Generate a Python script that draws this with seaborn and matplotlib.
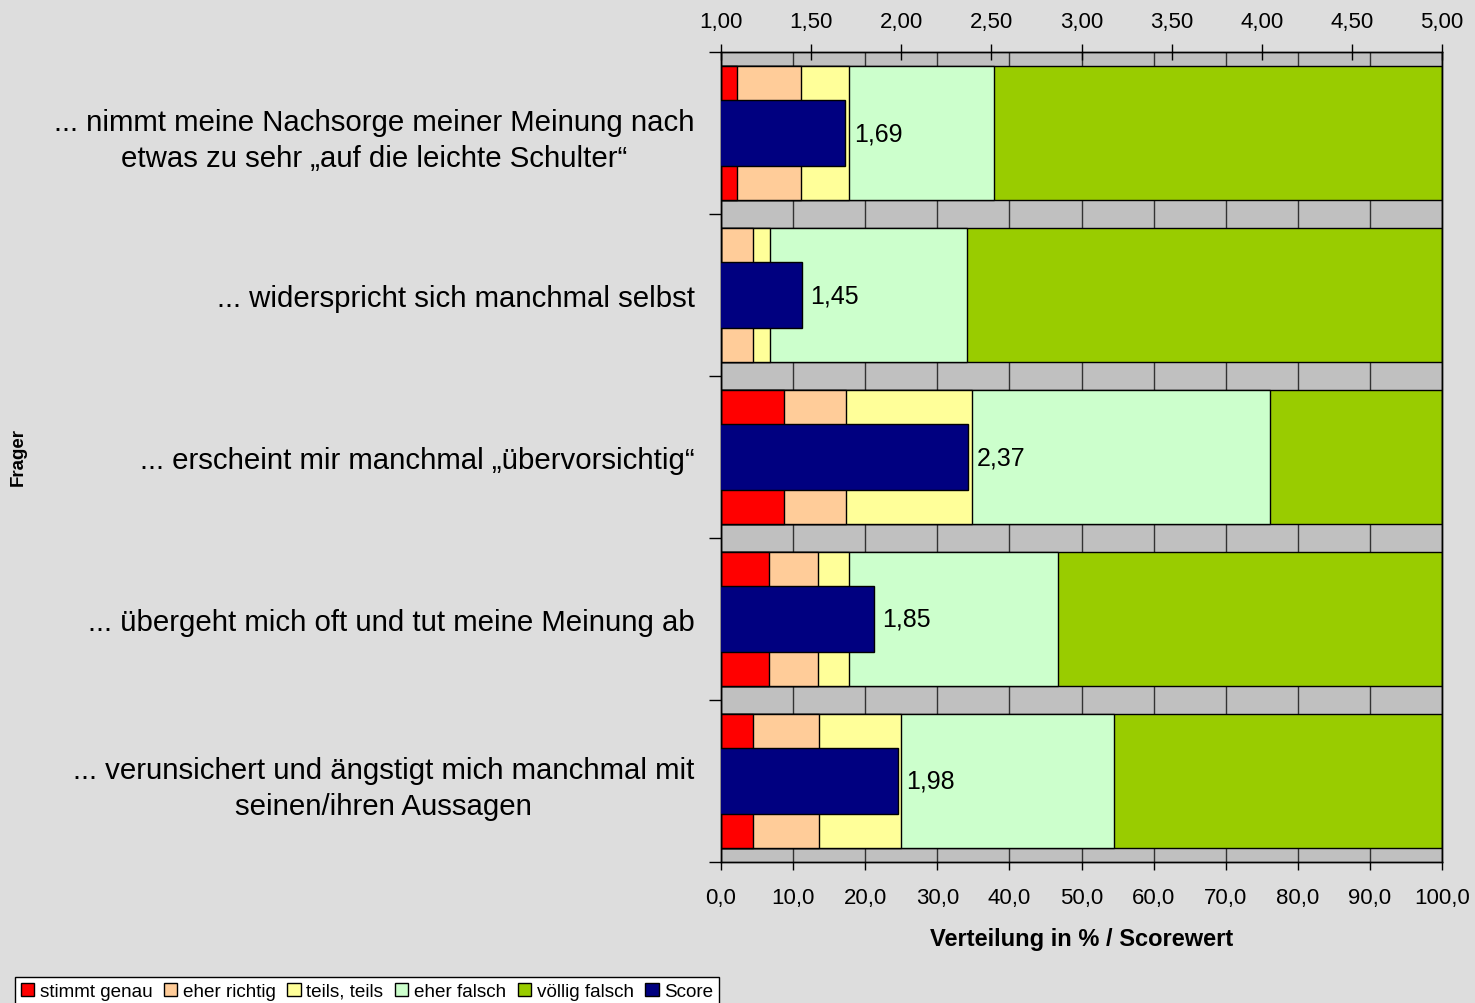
import numpy as np
import pandas as pd
import seaborn as sns
import matplotlib
matplotlib.use("Agg")
import matplotlib.pyplot as plt
from matplotlib.patches import Patch

# ---------------- data ----------------
categories = [
    "... nimmt meine Nachsorge meiner Meinung nach\netwas zu sehr \u201eauf die leichte Schulter\u201c",
    "... widerspricht sich manchmal selbst",
    "... erscheint mir manchmal \u201eübervorsichtig\u201c",
    "... übergeht mich oft und tut meine Meinung ab",
    "... verunsichert und ängstigt mich manchmal mit\nseinen/ihren Aussagen",
]
stimmt_genau = [2.2, 0.0, 8.7, 6.7, 4.5]
eher_richtig = [8.9, 4.5, 8.7, 6.7, 9.1]
teils_teils = [6.7, 2.3, 17.4, 4.4, 11.4]
eher_falsch = [20.0, 27.3, 41.3, 28.9, 29.5]
voellig_falsch = [62.2, 65.9, 23.9, 53.3, 45.5]
scores = [1.69, 1.45, 2.37, 1.85, 1.98]

series_names = ["stimmt genau", "eher richtig", "teils, teils", "eher falsch", "völlig falsch"]
score_name = "Score"
pct_ticks = [0, 10, 20, 30, 40, 50, 60, 70, 80, 90, 100]
score_ticks = [1.0, 1.5, 2.0, 2.5, 3.0, 3.5, 4.0, 4.5, 5.0]

# ---------------- style ----------------
colors = ["#FF0000", "#FFCC99", "#FFFF99", "#CCFFCC", "#99CC00"]
score_color = "#000080"
fig_bg = "#DDDDDD"
plot_bg = "#C0C0C0"

sns.set_style("white")
plt.rcParams["font.family"] = ["Liberation Sans", "DejaVu Sans"]
plt.rcParams["text.color"] = "black"
plt.rcParams["axes.labelcolor"] = "black"
plt.rcParams["xtick.color"] = "black"
plt.rcParams["ytick.color"] = "black"
plt.rcParams["xtick.labelcolor"] = "black"
plt.rcParams["ytick.labelcolor"] = "black"

W, H = 1475, 1004
fig = plt.figure(figsize=(W / 100, H / 100), dpi=100, facecolor=fig_bg)
ax = fig.add_axes([721 / W, 1 - 863 / H, (1442 - 721) / W, (863 - 53) / H])
ax.set_facecolor(plot_bg)

series = [stimmt_genau, eher_richtig, teils_teils, eher_falsch, voellig_falsch]
cum = np.cumsum(np.array(series), axis=0)
df = pd.DataFrame({"cat": categories})
for k in range(len(series) - 1, -1, -1):
    df["v"] = cum[k]
    sns.barplot(data=df, x="v", y="cat", orient="h", color=colors[k], saturation=1,
                width=0.833, edgecolor="black", linewidth=1, ax=ax, zorder=2)

ax2 = ax.twiny()
dfs = pd.DataFrame({"cat": categories, "score": scores})
sns.barplot(data=dfs, x="score", y="cat", orient="h", color=score_color, saturation=1,
            width=0.407, edgecolor="black", linewidth=1, ax=ax2, zorder=3)
ax2.set_xlim(1, 5)
ax2.bar_label(ax2.containers[0], labels=[f"{s:.2f}".replace(".", ",") for s in scores],
              padding=6, fontsize=18, color="black")

# axes config
ax.set_xlim(0, 100)
ax.set_ylim(len(categories) - 0.5, -0.5)
ax.set_xticks(pct_ticks)
ax.set_xticklabels([f"{t:.1f}".replace(".", ",") for t in pct_ticks], fontsize=16)
ax.tick_params(axis="x", direction="out", length=6, width=1, pad=12, color="black",
               labelcolor="black")
ax.set_axisbelow(True)
ax.xaxis.grid(True, color="#333333", linewidth=1)
ax.yaxis.grid(False)

ax.set_yticks(range(len(categories)))
ax.set_yticklabels(categories, fontsize=21.2)
for lab in ax.get_yticklabels():
    lab.set_multialignment("center")
    lab.set_linespacing(1.36)
ax.tick_params(axis="y", which="major", length=0, pad=19, labelcolor="black")
ax.set_yticks(np.arange(-0.5, len(categories), 1.0), minor=True)
ax.tick_params(axis="y", which="minor", length=9, width=1, direction="out", color="black", left=True)
ax.set_ylabel("")
ax.set_xlabel("Verteilung in % / Scorewert", fontsize=17, fontweight="bold", labelpad=14,
              color="black")

ax2.set_xticks(score_ticks)
ax2.set_xticklabels([f"{t:.2f}".replace(".", ",") for t in score_ticks], fontsize=16)
ax2.tick_params(axis="x", direction="inout", length=11, width=1, pad=9, color="black",
                labelcolor="black")
ax2.set_xlabel("")
ax2.set_ylabel("")

for a in (ax, ax2):
    for s in a.spines.values():
        s.set_color("black")
        s.set_linewidth(1)

fig.text(18 / W, 1 - 457 / H, "Frager", rotation=90, fontweight="bold", fontsize=13.5,
         ha="center", va="center", color="black")

handles = [Patch(facecolor=c, edgecolor="black", linewidth=1) for c in colors]
handles.append(Patch(facecolor=score_color, edgecolor="black", linewidth=1))
leg = fig.legend(handles, series_names + [score_name], loc="upper left",
                 bbox_to_anchor=(15 / W, 1 - 978 / H), ncol=6, frameon=True, fancybox=False,
                 edgecolor="black", framealpha=1, facecolor="white", fontsize=13.6,
                 handlelength=0.7, handleheight=0.7, handletextpad=0.3, columnspacing=0.62,
                 borderpad=0.3, borderaxespad=0)
leg.get_frame().set_linewidth(1)
for t in leg.get_texts():
    t.set_color("black")

fig.savefig("out.png", dpi=100, facecolor=fig_bg)
